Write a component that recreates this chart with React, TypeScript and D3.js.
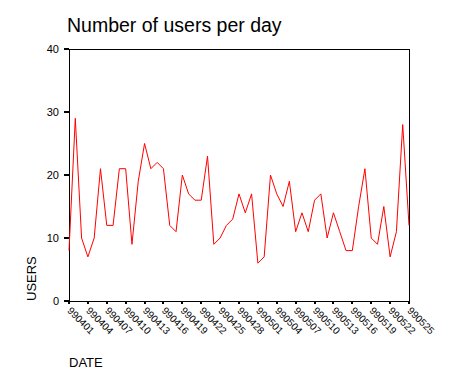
import React from "react";
import * as d3 from "d3";

const dates: string[] = [
  "990401","990402","990403","990404","990405","990406","990407","990408","990409","990410",
  "990411","990412","990413","990414","990415","990416","990417","990418","990419","990420",
  "990421","990422","990423","990424","990425","990426","990427","990428","990429","990430",
  "990501","990502","990503","990504","990505","990506","990507","990508","990509","990510",
  "990511","990512","990513","990514","990515","990516","990517","990518","990519","990520",
  "990521","990522","990523","990524","990525",
];
const users: number[] = [
  8, 29, 10, 7, 10, 21, 12, 12, 21, 21,
  9, 19, 25, 21, 22, 21, 12, 11, 20, 17,
  16, 16, 23, 9, 10, 12, 13, 17, 14, 17,
  6, 7, 20, 17, 15, 19, 11, 14, 11, 16,
  17, 10, 14, 11, 8, 8, 15, 21, 10, 9,
  15, 7, 11, 28, 12,
];
const yTicks: number[] = [0, 10, 20, 30, 40];
const xTickLabels: string[] = dates.filter((_, i) => i % 3 === 0);

export default function App() {
  const W = 471, H = 377;
  const left = 69, right = 409, top = 49, bottom = 301;
  const x = d3.scalePoint<string>().domain(dates).range([left, right]);
  const y = d3.scaleLinear().domain([0, 40]).range([bottom, top]);
  const line = d3
    .line<number>()
    .x((_, i) => x(dates[i]) as number)
    .y((d) => y(d));
  const font = "Arial, 'Liberation Sans', sans-serif";
  return (
    <svg width={W} height={H} style={{ position: "absolute", left: 0, top: 0, background: "#fff" }} fontFamily={font}>
      <rect x={0} y={0} width={W} height={H} fill="#fff" />
      <text x={67} y={31.5} fontSize={19.5} fill="#000">Number of users per day</text>
      <rect x={left} y={top} width={right - left} height={bottom - top} fill="none" stroke="#000" strokeWidth={1} shapeRendering="crispEdges" />
      {yTicks.map((t) => (
        <g key={t}>
          <line x1={left - 5} x2={left} y1={y(t)} y2={y(t)} stroke="#000" strokeWidth={2} shapeRendering="crispEdges" />
          <text x={59} y={y(t)} dy="0.35em" fontSize={11} textAnchor="end" fill="#000">{t}</text>
        </g>
      ))}
      {xTickLabels.map((d) => {
        const px = x(d) as number;
        return (
          <g key={d}>
            <line x1={px} x2={px} y1={bottom} y2={bottom + 3} stroke="#000" strokeWidth={2} shapeRendering="crispEdges" />
            <text transform={`translate(${px + 3},${bottom + 5}) rotate(45)`} dy="0.75em" fontSize={10} fill="#000">{d}</text>
          </g>
        );
      })}
      <path d={line(users) || ""} fill="none" stroke="#ff0000" strokeWidth={1} />
      <text transform={`translate(36,${bottom}) rotate(-90)`} fontSize={13} textAnchor="start" fill="#000">USERS</text>
      <text x={69} y={367} fontSize={13} fill="#000">DATE</text>
    </svg>
  );
}
